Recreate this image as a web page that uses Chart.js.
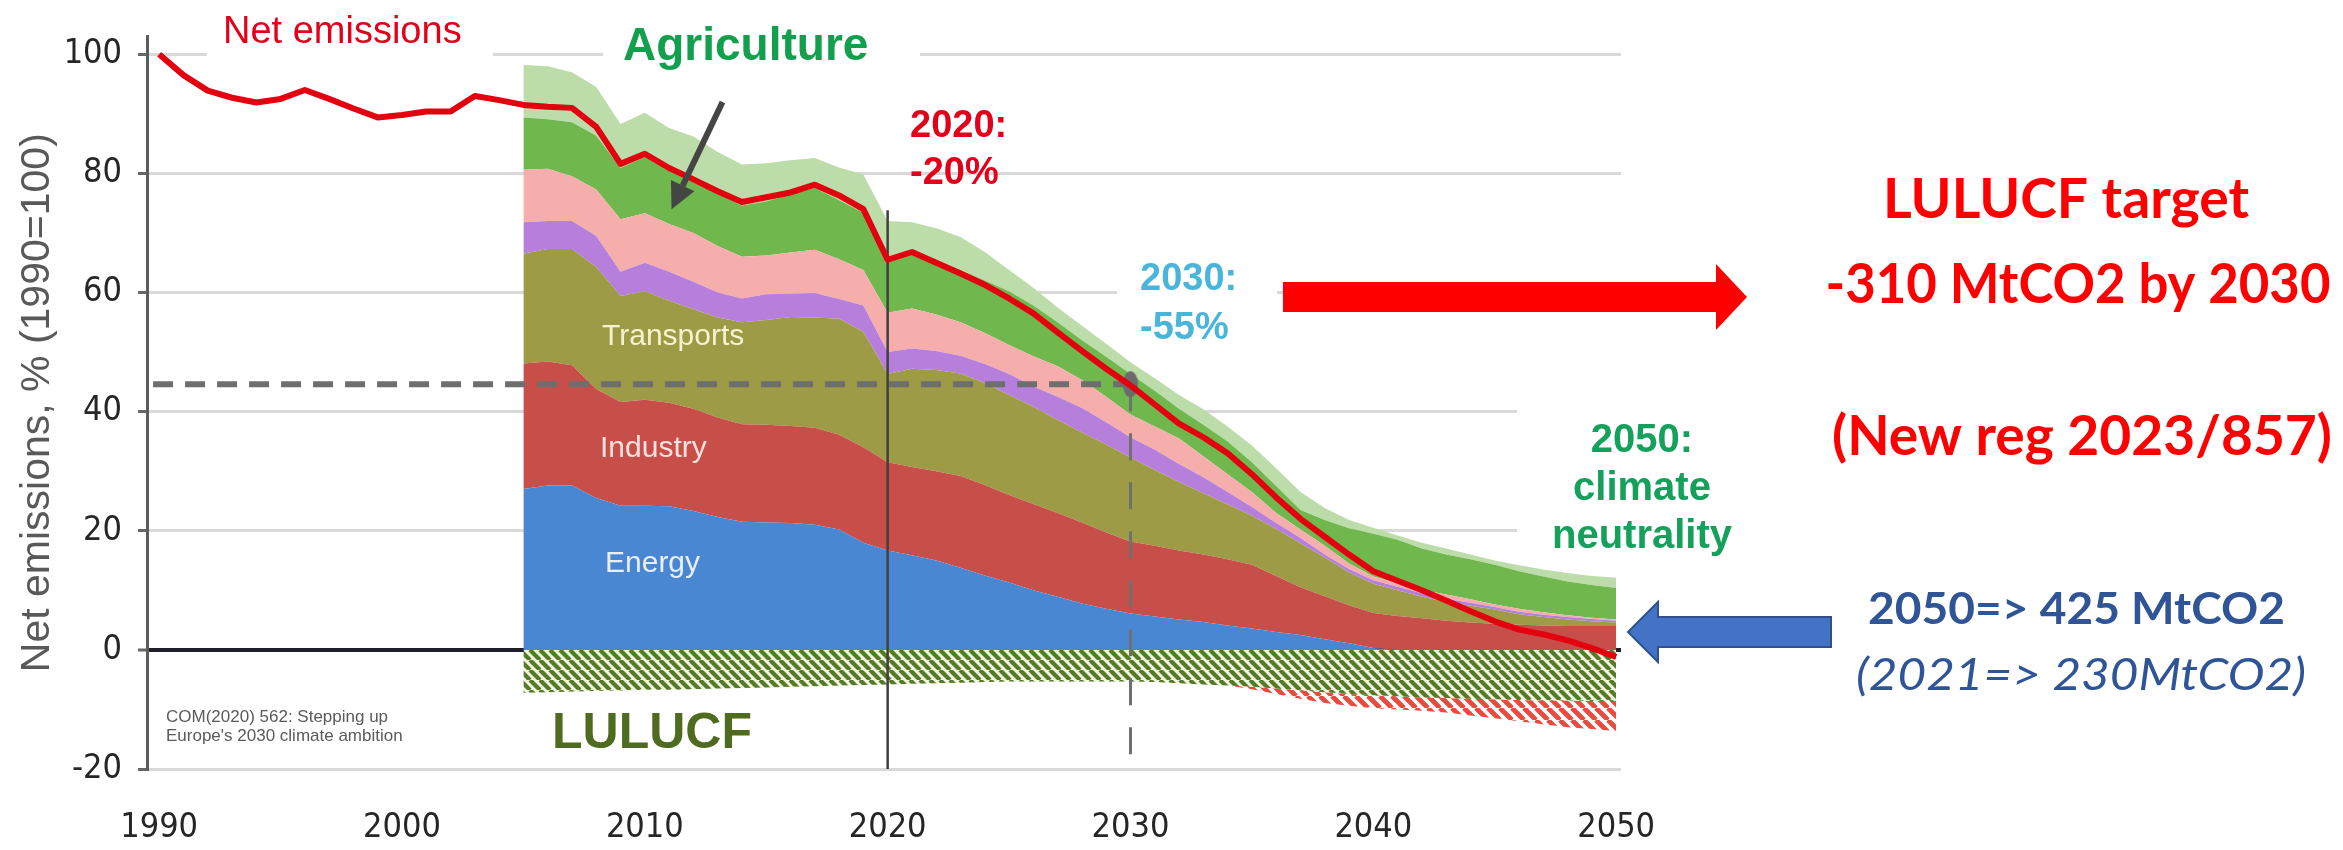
<!DOCTYPE html>
<html>
<head>
<meta charset="utf-8">
<script src="https://cdn.jsdelivr.net/npm/chart.js@4.4.1/dist/chart.umd.min.js"></script>
<style>
  html, body { margin: 0; padding: 0; background: #fff; }
  canvas { display: block; }
</style>
</head>
<body>
<canvas id="chart" width="2343" height="850"></canvas>
<script>
// Net emissions, % of 1990 level, and the sector bands of the 2005-2050 projection.

const netYears = [1990, 1991, 1992, 1993, 1994, 1995, 1996, 1997, 1998, 1999,
  2000, 2001, 2002, 2003, 2004, 2005, 2006, 2007, 2008, 2009,
  2010, 2011, 2012, 2013, 2014, 2015, 2016, 2017, 2018, 2019,
  2020, 2021, 2022, 2023, 2024, 2025, 2026, 2027, 2028, 2029,
  2030, 2031, 2032, 2033, 2034, 2035, 2036, 2037, 2038, 2039,
  2040, 2041, 2042, 2043, 2044, 2045, 2046, 2047, 2048, 2049, 2050];

const netEmissions = [100, 96.5, 93.9, 92.7, 91.9, 92.5, 94.0, 92.5, 90.9, 89.4,
  89.8, 90.4, 90.4, 93.0, 92.3, 91.5, 91.2, 91.0, 87.8, 81.6,
  83.3, 80.9, 79.0, 77.0, 75.2, 76.0, 76.8, 78.1, 76.3, 74.0,
  65.5, 66.8, 65.0, 63.2, 61.3, 59.0, 56.5, 53.3, 50.2, 47.2,
  44.4, 41.2, 38.0, 35.7, 33.0, 29.5, 25.6, 22.0, 19.0, 16.0,
  13.2, 11.6, 10.0, 8.3, 6.5, 4.8, 3.4, 2.6, 1.6, 0.3, -1.2];

const stackYears = [2005, 2006, 2007, 2008, 2009, 2010, 2011, 2012, 2013, 2014,
  2015, 2016, 2017, 2018, 2019, 2020, 2021, 2022, 2023, 2024,
  2025, 2026, 2027, 2028, 2029, 2030, 2031, 2032, 2033, 2034,
  2035, 2036, 2037, 2038, 2039, 2040, 2041, 2042, 2043, 2044,
  2045, 2046, 2047, 2048, 2049, 2050];

// upper edge of each band (cumulative)
const energyTop = [27.0, 27.6, 27.6, 25.5, 24.2, 24.2, 24.1, 23.3, 22.3, 21.5,
  21.4, 21.3, 21.0, 20.2, 18.0, 16.7, 15.9, 15.0, 13.8, 12.5,
  11.3, 10.0, 8.9, 7.8, 6.9, 6.1, 5.6, 5.1, 4.7, 4.1,
  3.6, 3.0, 2.5, 1.8, 1.1, 0.3, 0, 0, 0, 0,
  0, 0, 0, 0, 0, 0];
const industryTop = [48.1, 48.4, 47.8, 43.8, 41.6, 42.0, 41.5, 40.5, 39.0, 37.9,
  37.8, 37.6, 37.3, 36.1, 34.0, 31.5, 30.7, 30.0, 29.2, 27.7,
  26.0, 24.5, 23.0, 21.4, 19.7, 18.2, 17.5, 16.7, 16.0, 15.2,
  14.3, 12.4, 10.5, 9.0, 7.5, 6.2, 5.7, 5.3, 4.9, 4.6,
  4.4, 4.2, 4.1, 4.0, 4.0, 4.0];
const transportTop = [66.5, 67.3, 67.3, 64.3, 59.4, 60.2, 58.6, 57.2, 55.8, 55.0,
  55.4, 55.9, 55.8, 55.6, 53.4, 46.3, 47.2, 47.0, 46.4, 44.8,
  42.8, 40.8, 38.6, 36.5, 34.5, 32.3, 30.2, 28.2, 26.3, 24.4,
  22.5, 20.3, 17.9, 15.5, 13.0, 11.1, 10.0, 8.9, 8.1, 7.4,
  6.8, 6.0, 5.5, 5.1, 4.8, 4.6];
const purpleTop = [71.8, 72.0, 72.0, 69.5, 63.5, 65.0, 63.5, 61.8, 60.0, 59.0,
  59.7, 59.8, 59.9, 58.9, 57.8, 50.0, 50.6, 50.2, 49.4, 48.0,
  46.3, 44.2, 42.5, 40.6, 38.2, 35.7, 33.6, 31.2, 29.0, 26.5,
  24.0, 21.3, 18.8, 16.0, 13.6, 11.7, 10.6, 9.5, 8.6, 7.9,
  7.2, 6.4, 5.9, 5.5, 5.2, 4.9];
const pinkTop = [80.6, 80.8, 79.5, 77.3, 72.3, 73.3, 71.5, 70.0, 67.8, 66.0,
  66.2, 66.7, 67.2, 65.6, 63.8, 56.6, 57.3, 56.3, 55.0, 53.2,
  51.2, 49.3, 47.6, 45.3, 42.5, 39.5, 37.5, 35.5, 32.5, 29.5,
  26.5, 23.0, 20.2, 17.5, 14.5, 12.3, 11.2, 10.1, 9.3, 8.5,
  7.6, 6.9, 6.3, 5.8, 5.4, 5.1];
const agricultureTop = [89.4, 89.1, 88.6, 86.3, 80.9, 82.8, 80.4, 78.5, 76.6, 74.6,
  75.3, 76.5, 77.6, 75.5, 73.4, 66.0, 67.0, 65.5, 63.8, 62.0,
  60.2, 57.8, 55.0, 52.0, 49.2, 46.3, 43.5, 40.5, 37.8, 35.0,
  31.5, 27.5, 23.5, 21.8, 20.4, 19.5, 18.5, 17.0, 16.0, 15.2,
  14.3, 13.2, 12.3, 11.5, 10.9, 10.4];
const lightGreenTop = [98.2, 98.0, 97.0, 94.5, 88.3, 90.2, 87.6, 86.2, 83.6, 81.5,
  81.7, 82.2, 82.6, 81.0, 79.8, 72.0, 71.8, 70.8, 69.3, 66.8,
  63.8, 60.8, 57.5, 54.4, 51.4, 48.3, 45.6, 42.8, 40.4, 37.5,
  34.3, 30.5, 26.5, 23.8, 21.8, 20.5, 19.2, 18.0, 17.0, 16.0,
  15.0, 14.2, 13.5, 12.9, 12.4, 12.1];

// sink below zero: LULUCF (green hatch) and the extra removals (red hatch)
const lulucfLow = [-7.2, -7.1, -7.0, -6.9, -6.8, -6.7, -6.7, -6.6, -6.5, -6.4,
  -6.3, -6.2, -6.1, -6.0, -5.9, -5.8, -5.7, -5.6, -5.5, -5.4,
  -5.3, -5.3, -5.3, -5.3, -5.3, -5.3, -5.4, -5.6, -5.8, -6.0,
  -6.2, -6.5, -6.8, -7.1, -7.4, -7.6, -7.8, -8.0, -8.1, -8.2,
  -8.3, -8.4, -8.5, -8.5, -8.6, -8.6];
const extraSinkLow = [-7.2, -7.1, -7.0, -6.9, -6.8, -6.7, -6.7, -6.6, -6.5, -6.4,
  -6.3, -6.2, -6.1, -6.0, -5.9, -5.8, -5.7, -5.6, -5.5, -5.4,
  -5.3, -5.3, -5.3, -5.3, -5.3, -5.3, -5.4, -5.6, -5.8, -6.0,
  -6.6, -7.4, -8.2, -8.9, -9.4, -9.8, -10.0, -10.2, -10.5, -11.0,
  -11.5, -12.0, -12.5, -13.0, -13.3, -13.6];

const target2030 = 44.6;
const yTicks = [-20, 0, 20, 40, 60, 80, 100];

function pts(xs, ys) { return xs.map((x, i) => ({ x: x, y: ys[i] })); }

function hatch(bg, fg, period, width) {
  const c = document.createElement('canvas');
  c.width = period; c.height = period;
  const g = c.getContext('2d');
  if (bg) { g.fillStyle = bg; g.fillRect(0, 0, period, period); }
  g.strokeStyle = fg; g.lineWidth = width;
  for (const k of [-period, 0, period]) {
    g.beginPath(); g.moveTo(k, 0); g.lineTo(k + period, period); g.stroke();
  }
  return g.createPattern(c, 'repeat');
}

const pin = document.createElement('canvas');
pin.width = 16; pin.height = 28;
const pc = pin.getContext('2d');
pc.fillStyle = '#6b6b6b';
pc.beginPath(); pc.ellipse(8, 14, 7.5, 13, 0, 0, Math.PI * 2); pc.fill();

const area = (label, data, color, fill) => ({
  label: label, data: pts(stackYears, data), backgroundColor: color,
  borderWidth: 0, pointRadius: 0, fill: fill, order: 10
});

const narrow = "'Liberation Sans Narrow', 'DejaVu Sans Condensed', sans-serif";
const arial = "'Liberation Sans', Arial, sans-serif";
const lato = "Lato, 'Open Sans', sans-serif";

// text squeezed or stretched to a given width, at a fixed font size
function fitText(ctx, s, x, y, font, color, width, align) {
  ctx.font = font; ctx.fillStyle = color;
  ctx.textAlign = 'left'; ctx.textBaseline = 'alphabetic';
  const w = ctx.measureText(s).width;
  const sx = width / w;
  const left = align === 'center' ? x - width / 2 : x;
  ctx.save();
  ctx.translate(left, y); ctx.scale(sx, 1);
  ctx.fillText(s, 0, 0);
  ctx.restore();
}

const annotations = {
  id: 'annotations',
  beforeDatasetsDraw(chart) {
    const ctx = chart.ctx;
    ctx.save();
    ctx.fillStyle = '#ffffff';
    ctx.fillRect(207, 4, 286, 56);     // Net emissions
    ctx.fillRect(603, 14, 317, 54);    // Agriculture
    ctx.fillRect(1117, 245, 160, 105); // 2030
    ctx.fillRect(1517, 395, 230, 178); // 2050
    ctx.restore();
  },
  afterDatasetsDraw(chart) {
    const ctx = chart.ctx;
    const xs = chart.scales.x, ys = chart.scales.y;
    const P = (x, y) => [xs.getPixelForValue(x), ys.getPixelForValue(y)];
    const text = (s, x, y, font, color, align) => {
      ctx.font = font; ctx.fillStyle = color;
      ctx.textAlign = align || 'left'; ctx.textBaseline = 'alphabetic';
      ctx.fillText(s, x, y);
    };
    ctx.save();

    text('Net emissions', 223, 43, '38px ' + arial, '#e2001a');
    text('Agriculture', 623, 60, 'bold 46px ' + arial, '#12a04e');

    // arrow towards the agriculture band
    const [ax, ay] = P(2013.2, 92.0);
    const [bx, by] = P(2011.1, 74.0);
    const ang = Math.atan2(by - ay, bx - ax);
    const hl = 26, hw = 13;
    const cx = bx - hl * Math.cos(ang), cy = by - hl * Math.sin(ang);
    ctx.strokeStyle = '#454545'; ctx.lineWidth = 6;
    ctx.beginPath(); ctx.moveTo(ax, ay); ctx.lineTo(cx, cy); ctx.stroke();
    ctx.fillStyle = '#454545';
    ctx.beginPath();
    ctx.moveTo(bx, by);
    ctx.lineTo(cx + hw * Math.sin(ang), cy - hw * Math.cos(ang));
    ctx.lineTo(cx - hw * Math.sin(ang), cy + hw * Math.cos(ang));
    ctx.closePath(); ctx.fill();

    text('2020:', 910, 137, 'bold 38px ' + arial, '#e2001a');
    text('-20%', 910, 184, 'bold 38px ' + arial, '#e2001a');
    text('2030:', 1140, 290, 'bold 38px ' + arial, '#4ab5db');
    text('-55%', 1140, 339, 'bold 38px ' + arial, '#4ab5db');
    text('2050:', 1642, 452, 'bold 40px ' + arial, '#15a05c', 'center');
    text('climate', 1642, 500, 'bold 40px ' + arial, '#15a05c', 'center');
    text('neutrality', 1642, 548, 'bold 40px ' + arial, '#15a05c', 'center');

    text('Transports', 602, 345, '30px ' + arial, '#f6f2d2');
    text('Industry', 600, 457, '30px ' + arial, '#fce2de');
    text('Energy', 605, 572, '30px ' + arial, '#e8effa');
    text('LULUCF', 552, 748, 'bold 50px ' + arial, '#4e6b1f');
    text('COM(2020) 562: Stepping up', 166, 722, '17px ' + arial, '#5a5a5a');
    text("Europe's 2030 climate ambition", 166, 741, '17px ' + arial, '#5a5a5a');

    // red arrow to the LULUCF target
    ctx.fillStyle = '#ff0000';
    ctx.beginPath();
    ctx.moveTo(1283, 282); ctx.lineTo(1716, 282); ctx.lineTo(1716, 264);
    ctx.lineTo(1747, 297); ctx.lineTo(1716, 330); ctx.lineTo(1716, 312);
    ctx.lineTo(1283, 312); ctx.closePath(); ctx.fill();

    // blue arrow pointing at 2050
    ctx.fillStyle = '#4472c4'; ctx.strokeStyle = '#2f528f'; ctx.lineWidth = 2;
    ctx.beginPath();
    ctx.moveTo(1831, 617); ctx.lineTo(1658, 617); ctx.lineTo(1658, 602);
    ctx.lineTo(1628, 632); ctx.lineTo(1658, 662); ctx.lineTo(1658, 647);
    ctx.lineTo(1831, 647); ctx.closePath(); ctx.fill(); ctx.stroke();

    fitText(ctx, 'LULUCF target', 2066, 218, 'bold 56px ' + lato, '#ff0000', 366, 'center');
    fitText(ctx, '-310 MtCO2 by 2030', 2078, 303, 'bold 56px ' + lato, '#ff0000', 505, 'center');
    fitText(ctx, '(New reg 2023/857)', 2082, 455, 'bold 56px ' + lato, '#ff0000', 500, 'center');
    fitText(ctx, '2050=> 425 MtCO2', 1868, 624, 'bold 44px ' + lato, '#2f5597', 417);
    fitText(ctx, '(2021=> 230MtCO2)', 1856, 690, 'italic 44px ' + lato, '#2f5597', 450);

    ctx.restore();
  }
};

const ctx = document.getElementById('chart').getContext('2d');
new Chart(ctx, {
  type: 'line',
  data: {
    datasets: [
      area('Energy', energyTop, '#4a87d3', 'origin'),
      area('Industry', industryTop, '#c84f49', '-1'),
      area('Transports', transportTop, '#9d9b45', '-1'),
      area('Other (purple)', purpleTop, '#b57fdb', '-1'),
      area('Other (pink)', pinkTop, '#f5aeac', '-1'),
      area('Agriculture', agricultureTop, '#70b74d', '-1'),
      area('Other (light green)', lightGreenTop, '#bcdca9', '-1'),
      {
        label: 'LULUCF', data: pts(stackYears, lulucfLow),
        backgroundColor: hatch('#f2f6dc', '#557a2a', 10, 4.2),
        borderWidth: 0, pointRadius: 0, fill: 'origin', order: 11
      },
      {
        label: 'Extra sink', data: pts(stackYears, extraSinkLow),
        backgroundColor: hatch(null, '#ea4a3d', 12, 4.8),
        borderWidth: 0, pointRadius: 0, fill: 7, order: 11
      },
      {
        label: '2020', data: [{ x: 2020, y: 73.8 }, { x: 2020, y: -20 }],
        borderColor: '#3f3f3f', borderWidth: 2.5, pointRadius: 0, fill: false, order: 3
      },
      {
        label: '2030', data: [{ x: 2030, y: target2030 }, { x: 2030, y: -18.6 }],
        borderColor: '#707070', borderWidth: 3, borderDash: [27, 22],
        pointRadius: 0, fill: false, order: 3
      },
      {
        label: '-55% level', data: [{ x: 1989.75, y: target2030 }, { x: 2030, y: target2030 }],
        borderColor: '#6e6e6e', borderWidth: 6, borderDash: [20, 12],
        pointRadius: 0, fill: false, order: 2
      },
      {
        label: 'marker', data: [{ x: 2030, y: target2030 }],
        pointStyle: pin, pointRadius: 10, showLine: false, order: 1
      },
      {
        label: 'Net emissions', data: pts(netYears, netEmissions),
        borderColor: '#e3000f', borderWidth: 6, borderJoinStyle: 'round',
        pointRadius: 0, fill: false, order: 0
      }
    ]
  },
  options: {
    responsive: false,
    devicePixelRatio: 1,
    animation: false,
    events: [],
    layout: { padding: { top: 27, right: 722, left: 0, bottom: 0 } },
    plugins: { legend: { display: false }, tooltip: { enabled: false } },
    scales: {
      x: {
        type: 'linear', min: 1989.5, max: 2050.2,
        afterFit(scale) { scale.height = 81; },
        grid: { display: false, drawTicks: false },
        border: { display: false },
        ticks: {
          stepSize: 10, includeBounds: false, autoSkip: false, maxRotation: 0,
          padding: 39, color: '#262626',
          font: { family: narrow, size: 34 },
          callback: v => String(v)
        }
      },
      y: {
        min: -20, max: 103,
        afterFit(scale) { scale.width = 147; },
        afterBuildTicks(scale) { scale.ticks = yTicks.map(v => ({ value: v })); },
        border: { display: true, color: '#5c5c5c', width: 3 },
        grid: {
          color: c => (c.tick && c.tick.value === 0) ? '#1f1f2b' : '#d9d9d9',
          lineWidth: c => (c.tick && c.tick.value === 0) ? 4 : 3,
          tickColor: '#666', tickLength: 9, tickWidth: 3
        },
        ticks: {
          stepSize: 20, includeBounds: false, padding: 16, color: '#262626',
          font: { family: narrow, size: 34 }
        },
        title: {
          display: true, text: 'Net emissions, % (1990=100)', color: '#595959',
          font: { family: arial, size: 41 }, padding: { top: 13, bottom: 0 }
        }
      }
    }
  },
  plugins: [annotations]
});
</script>
</body>
</html>
